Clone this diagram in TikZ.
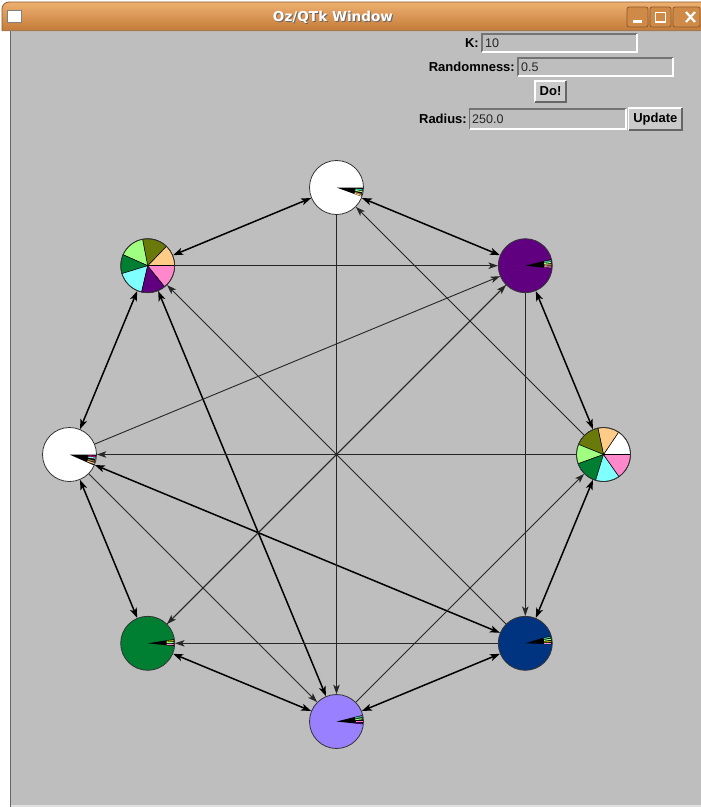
\documentclass[tikz,border=0pt]{standalone}
\usepackage{fontspec}
\setmainfont{Liberation Sans}
\newfontfamily\titlefont{DejaVu Sans}
\usetikzlibrary{arrows.meta}
\definecolor{bg}{HTML}{BEBEBE}
\definecolor{tbtop}{HTML}{EDB070}
\definecolor{tbbot}{HTML}{C47A38}
\definecolor{tbline}{HTML}{8A5A2A}
\definecolor{btnfill}{HTML}{D08A48}
\definecolor{cPeach}{HTML}{FFCC88}
\definecolor{cOlive}{HTML}{6A7A0A}
\definecolor{cLgreen}{HTML}{A0FF80}
\definecolor{cDgreen}{HTML}{007F33}
\definecolor{cCyan}{HTML}{80FFFF}
\definecolor{cPurple}{HTML}{600080}
\definecolor{cPink}{HTML}{FF88CC}
\definecolor{cNavy}{HTML}{003380}
\definecolor{cLav}{HTML}{9980FF}
\definecolor{cTeal}{HTML}{40C0A0}
\definecolor{cTan}{HTML}{A08040}
\definecolor{btnbg}{HTML}{CACACA}
\tikzset{
  gnode/.style={circle, draw=black!80, line width=0.8pt, minimum size=54pt, inner sep=0pt},
  lbl/.style={font=\bfseries\fontsize{13}{15}\selectfont, inner sep=0pt},
  val/.style={font=\fontsize{12.5}{14}\selectfont, text=black!85, inner sep=0pt, anchor=west},
  edgeone/.style={draw=black!85, line width=0.9pt, -{Stealth[length=9.5pt,width=6.5pt,inset=2.5pt]}},
  edgetwo/.style={draw=black, line width=1.5pt, {Stealth[length=10pt,width=7pt,inset=2.5pt]}-{Stealth[length=10pt,width=7pt,inset=2.5pt]}}
}
\newcommand\pslice[5]{\filldraw[fill=#5, draw=black, line width=0.5pt] (#1,#2) -- +(#3:27) arc[start angle=#3, end angle=#4, radius=27] -- cycle;}
\newcommand\minorw[4]{\fill[black] (#1,#2) -- +(#3:26.5) arc[start angle=#3, end angle=#4, radius=26.5] -- cycle;}
\newcommand\stripe[4]{\draw[#4, line width=1.1pt] (#1,#2) ++(#3:19) -- ++(#3:7);}
\newcommand\sunken[4]{\draw[black!55, line width=1.5pt] (#1,#4) -- (#1,#2) -- (#3,#2); \draw[white, line width=1.5pt] (#1,#4) -- (#3,#4) -- (#3,#2);}
\newcommand\raised[4]{\fill[btnbg] (#1,#2) rectangle (#3,#4); \draw[white, line width=1.5pt] (#1,#4) -- (#1,#2) -- (#3,#2); \draw[black!60, line width=1.5pt] (#1,#4) -- (#3,#4) -- (#3,#2);}
\begin{document}
\begin{tikzpicture}[x=1pt,y=-1pt]
\useasboundingbox (0,0) rectangle (701,807);
\fill[white] (0,0) rectangle (701,807);
\fill[bg] (11,30) rectangle (701,805);
\draw[black!60, line width=1pt] (10.5,30) -- (10.5,807);
\fill[black!12] (11,805) rectangle (701,807);
% title bar
\shade[top color=tbtop, bottom color=tbbot] (2,31) -- (2,9) arc[start angle=180,end angle=270,radius=7] -- (701,2) -- (701,31) -- cycle;
\draw[tbline, line width=0.8pt] (2,31) -- (2,9) arc[start angle=180,end angle=270,radius=7] -- (701,2);
\draw[tbline!80, line width=1pt] (2,30.5) -- (701,30.5);
\draw[black!50, fill=white] (7.5,10.5) rectangle (21.5,22.5);
\node[text=black!60, font=\titlefont\bfseries\fontsize{13.6}{15}\selectfont] (titleshadow) at (334,18) {Oz/QTk Window};
\node[text=white, font=\titlefont\bfseries\fontsize{13.6}{15}\selectfont] (title) at (333,17) {Oz/QTk Window};
\foreach \bx/\bw in {627/21,650/21,673/27}{
  \draw[tbline, fill=btnfill, rounded corners=2pt, line width=0.8pt] (\bx,7) rectangle (\bx+\bw,27);
}
\fill[white] (633,19.5) rectangle (642,22.5);
\draw[white, line width=1.5pt] (655.5,12.5) rectangle (665.5,22);
\draw[white, line width=2.2pt] (686,12) -- (695,22) (695,12) -- (686,22);
% controls
\node[lbl, anchor=east] (klbl) at (479,43) {K:};
\sunken{482}{34}{637}{52}
\node[val] (kval) at (485,43) {10};
\node[lbl, anchor=east] (rlbl) at (515,67) {Randomness:};
\sunken{518}{58}{673}{76}
\node[val] (rval) at (521,67) {0.5};
\raised{535}{81}{566}{102}
\node[lbl] (dobtn) at (550.5,91.5) {Do!};
\node[lbl, anchor=east] (radlbl) at (467,119) {Radius:};
\sunken{469.5}{109}{626}{129}
\node[val] (radval) at (472,119) {250.0};
\raised{628.5}{108}{682}{130}
\node[lbl] (updbtn) at (655.3,119) {Update};
% fills
\fill[white] (336.5,187.5) circle (27);
\fill[cPurple] (525.3,265.7) circle (27);
\fill[cNavy] (525.3,643.3) circle (27);
\fill[cLav] (336.5,721.5) circle (27);
\fill[cDgreen] (147.7,643.3) circle (27);
\fill[white] (69.5,454.5) circle (27);
% pie n7
\pslice{147.7}{265.7}{-46}{0}{cPeach}
\pslice{147.7}{265.7}{-101}{-46}{cOlive}
\pslice{147.7}{265.7}{-156}{-101}{cLgreen}
\pslice{147.7}{265.7}{-197}{-156}{cDgreen}
\pslice{147.7}{265.7}{-257}{-197}{cCyan}
\pslice{147.7}{265.7}{-309}{-257}{cPurple}
\pslice{147.7}{265.7}{-360}{-309}{cPink}
\draw[black, line width=0.9pt] (147.7,265.7) -- +(0:27);
% pie n2
\pslice{603.5}{454.5}{-56}{0}{white}
\pslice{603.5}{454.5}{-102}{-56}{cPeach}
\pslice{603.5}{454.5}{-158}{-102}{cOlive}
\pslice{603.5}{454.5}{-200}{-158}{cLgreen}
\pslice{603.5}{454.5}{-253}{-200}{cDgreen}
\pslice{603.5}{454.5}{-305}{-253}{cCyan}
\pslice{603.5}{454.5}{-360}{-305}{cPink}
\draw[black, line width=0.9pt] (603.5,454.5) -- +(0:27);
% minor wedges
\minorw{336.5}{187.5}{0}{20}
\stripe{336.5}{187.5}{5}{cTeal}\stripe{336.5}{187.5}{9}{cLgreen}\stripe{336.5}{187.5}{15}{cTan}\stripe{336.5}{187.5}{18}{cPeach}
\minorw{525.3}{265.7}{-14}{6}
\stripe{525.3}{265.7}{-11}{cTeal}\stripe{525.3}{265.7}{-7}{cLgreen}\stripe{525.3}{265.7}{-2}{cPeach}\stripe{525.3}{265.7}{3}{cPink}
\minorw{69.5}{454.5}{0}{24}
\stripe{69.5}{454.5}{4}{magenta}\stripe{69.5}{454.5}{8}{cCyan}\stripe{69.5}{454.5}{15}{cTan}\stripe{69.5}{454.5}{20}{cPeach}
\minorw{147.7}{643.3}{-9}{6}
\stripe{147.7}{643.3}{-6}{cOlive!60!yellow}\stripe{147.7}{643.3}{-2}{cLgreen}\stripe{147.7}{643.3}{3}{cPink}
\minorw{525.3}{643.3}{-17}{2}
\stripe{525.3}{643.3}{-14}{cTeal}\stripe{525.3}{643.3}{-9}{cLgreen}\stripe{525.3}{643.3}{-4}{cOlive!60!yellow}\stripe{525.3}{643.3}{0}{cPink}
\minorw{336.5}{721.5}{-14}{6}
\stripe{336.5}{721.5}{-11}{cTeal}\stripe{336.5}{721.5}{-6}{cLgreen}\stripe{336.5}{721.5}{0}{cPink}\stripe{336.5}{721.5}{4}{cPurple}
% nodes
\node[gnode] (n0) at (336.5,187.5) {};
\node[gnode] (n1) at (525.3,265.7) {};
\node[gnode] (n2) at (603.5,454.5) {};
\node[gnode] (n3) at (525.3,643.3) {};
\node[gnode] (n4) at (336.5,721.5) {};
\node[gnode] (n5) at (147.7,643.3) {};
\node[gnode] (n6) at (69.5,454.5) {};
\node[gnode] (n7) at (147.7,265.7) {};
% edges
\draw[edgetwo] (n0) -- (n7);
\draw[edgetwo] (n0) -- (n1);
\draw[edgetwo] (n1) -- (n2);
\draw[edgetwo] (n2) -- (n3);
\draw[edgetwo] (n3) -- (n4);
\draw[edgetwo] (n4) -- (n5);
\draw[edgetwo] (n5) -- (n6);
\draw[edgetwo] (n6) -- (n7);
\draw[edgetwo] (n3) -- (n6);
\draw[edgetwo] (n7) -- (n4);
\draw[edgeone] (n0) -- (n4);
\draw[edgeone] (n2) -- (n0);
\draw[edgeone] (n7) -- (n1);
\draw[edgeone] (n6) -- (n1);
\draw[edgeone] (n5) -- (n1);
\draw[edgeone] (n1) -- (n5);
\draw[edgeone] (n1) -- (n3);
\draw[edgeone] (n2) -- (n6);
\draw[edgeone] (n4) -- (n2);
\draw[edgeone] (n3) -- (n7);
\draw[edgeone] (n3) -- (n5);
\draw[edgeone] (n6) -- (n4);
\end{tikzpicture}
\end{document}
